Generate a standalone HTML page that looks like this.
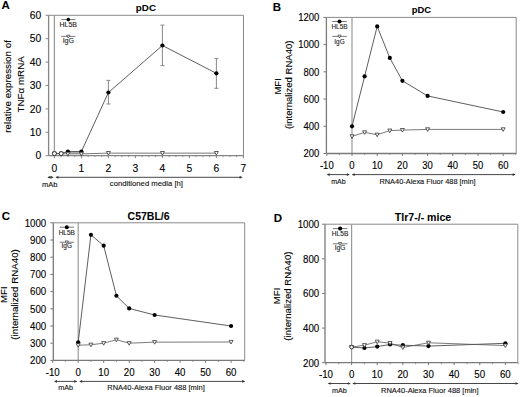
<!DOCTYPE html>
<html><head><meta charset="utf-8"><title>Figure</title>
<style>
html,body{margin:0;padding:0;background:#fff;}
body{width:520px;height:397px;overflow:hidden;font-family:"Liberation Sans", sans-serif;}
svg{display:block;}
</style></head><body>
<svg width="520" height="397" viewBox="0 0 520 397" font-family='"Liberation Sans", sans-serif'>
<line x1="48.60" y1="15.30" x2="243.50" y2="15.30" stroke="#8a8a8a" stroke-width="1"/>
<line x1="243.50" y1="15.30" x2="243.50" y2="155.70" stroke="#8a8a8a" stroke-width="1"/>
<line x1="54.40" y1="15.30" x2="54.40" y2="155.70" stroke="#9a9a9a" stroke-width="1.3"/>
<line x1="48.60" y1="15.30" x2="48.60" y2="155.70" stroke="#858585" stroke-width="1.3"/>
<line x1="48.60" y1="155.70" x2="243.50" y2="155.70" stroke="#858585" stroke-width="1.3"/>
<line x1="45.60" y1="155.70" x2="48.60" y2="155.70" stroke="#858585" stroke-width="1"/>
<text x="41.30" y="159.41" font-size="10.3" text-anchor="end" font-weight="normal" fill="#000" stroke="#000" stroke-width="0.12">0</text>
<line x1="45.60" y1="132.30" x2="48.60" y2="132.30" stroke="#858585" stroke-width="1"/>
<text x="41.30" y="136.01" font-size="10.3" text-anchor="end" font-weight="normal" fill="#000" stroke="#000" stroke-width="0.12">10</text>
<line x1="45.60" y1="108.90" x2="48.60" y2="108.90" stroke="#858585" stroke-width="1"/>
<text x="41.30" y="112.61" font-size="10.3" text-anchor="end" font-weight="normal" fill="#000" stroke="#000" stroke-width="0.12">20</text>
<line x1="45.60" y1="85.50" x2="48.60" y2="85.50" stroke="#858585" stroke-width="1"/>
<text x="41.30" y="89.21" font-size="10.3" text-anchor="end" font-weight="normal" fill="#000" stroke="#000" stroke-width="0.12">30</text>
<line x1="45.60" y1="62.10" x2="48.60" y2="62.10" stroke="#858585" stroke-width="1"/>
<text x="41.30" y="65.81" font-size="10.3" text-anchor="end" font-weight="normal" fill="#000" stroke="#000" stroke-width="0.12">40</text>
<line x1="45.60" y1="38.70" x2="48.60" y2="38.70" stroke="#858585" stroke-width="1"/>
<text x="41.30" y="42.41" font-size="10.3" text-anchor="end" font-weight="normal" fill="#000" stroke="#000" stroke-width="0.12">50</text>
<line x1="45.60" y1="15.30" x2="48.60" y2="15.30" stroke="#858585" stroke-width="1"/>
<text x="41.30" y="19.01" font-size="10.3" text-anchor="end" font-weight="normal" fill="#000" stroke="#000" stroke-width="0.12">60</text>
<line x1="54.40" y1="155.70" x2="54.40" y2="158.20" stroke="#858585" stroke-width="1"/>
<text x="54.40" y="172.00" font-size="10.3" text-anchor="middle" font-weight="normal" fill="#000" stroke="#000" stroke-width="0.12">0</text>
<line x1="81.40" y1="155.70" x2="81.40" y2="158.20" stroke="#858585" stroke-width="1"/>
<text x="81.40" y="172.00" font-size="10.3" text-anchor="middle" font-weight="normal" fill="#000" stroke="#000" stroke-width="0.12">1</text>
<line x1="108.40" y1="155.70" x2="108.40" y2="158.20" stroke="#858585" stroke-width="1"/>
<text x="108.40" y="172.00" font-size="10.3" text-anchor="middle" font-weight="normal" fill="#000" stroke="#000" stroke-width="0.12">2</text>
<line x1="135.40" y1="155.70" x2="135.40" y2="158.20" stroke="#858585" stroke-width="1"/>
<text x="135.40" y="172.00" font-size="10.3" text-anchor="middle" font-weight="normal" fill="#000" stroke="#000" stroke-width="0.12">3</text>
<line x1="162.40" y1="155.70" x2="162.40" y2="158.20" stroke="#858585" stroke-width="1"/>
<text x="162.40" y="172.00" font-size="10.3" text-anchor="middle" font-weight="normal" fill="#000" stroke="#000" stroke-width="0.12">4</text>
<line x1="189.40" y1="155.70" x2="189.40" y2="158.20" stroke="#858585" stroke-width="1"/>
<text x="189.40" y="172.00" font-size="10.3" text-anchor="middle" font-weight="normal" fill="#000" stroke="#000" stroke-width="0.12">5</text>
<line x1="216.40" y1="155.70" x2="216.40" y2="158.20" stroke="#858585" stroke-width="1"/>
<text x="216.40" y="172.00" font-size="10.3" text-anchor="middle" font-weight="normal" fill="#000" stroke="#000" stroke-width="0.12">6</text>
<line x1="243.40" y1="155.70" x2="243.40" y2="158.20" stroke="#858585" stroke-width="1"/>
<text x="243.40" y="172.00" font-size="10.3" text-anchor="middle" font-weight="normal" fill="#000" stroke="#000" stroke-width="0.12">7</text>
<line x1="61.15" y1="155.70" x2="61.15" y2="157.20" stroke="#858585" stroke-width="0.8"/>
<line x1="67.90" y1="155.70" x2="67.90" y2="157.20" stroke="#858585" stroke-width="0.8"/>
<line x1="74.65" y1="155.70" x2="74.65" y2="157.20" stroke="#858585" stroke-width="0.8"/>
<line x1="88.15" y1="155.70" x2="88.15" y2="157.20" stroke="#858585" stroke-width="0.8"/>
<line x1="94.90" y1="155.70" x2="94.90" y2="157.20" stroke="#858585" stroke-width="0.8"/>
<line x1="101.65" y1="155.70" x2="101.65" y2="157.20" stroke="#858585" stroke-width="0.8"/>
<line x1="115.15" y1="155.70" x2="115.15" y2="157.20" stroke="#858585" stroke-width="0.8"/>
<line x1="121.90" y1="155.70" x2="121.90" y2="157.20" stroke="#858585" stroke-width="0.8"/>
<line x1="128.65" y1="155.70" x2="128.65" y2="157.20" stroke="#858585" stroke-width="0.8"/>
<line x1="142.15" y1="155.70" x2="142.15" y2="157.20" stroke="#858585" stroke-width="0.8"/>
<line x1="148.90" y1="155.70" x2="148.90" y2="157.20" stroke="#858585" stroke-width="0.8"/>
<line x1="155.65" y1="155.70" x2="155.65" y2="157.20" stroke="#858585" stroke-width="0.8"/>
<line x1="169.15" y1="155.70" x2="169.15" y2="157.20" stroke="#858585" stroke-width="0.8"/>
<line x1="175.90" y1="155.70" x2="175.90" y2="157.20" stroke="#858585" stroke-width="0.8"/>
<line x1="182.65" y1="155.70" x2="182.65" y2="157.20" stroke="#858585" stroke-width="0.8"/>
<line x1="196.15" y1="155.70" x2="196.15" y2="157.20" stroke="#858585" stroke-width="0.8"/>
<line x1="202.90" y1="155.70" x2="202.90" y2="157.20" stroke="#858585" stroke-width="0.8"/>
<line x1="209.65" y1="155.70" x2="209.65" y2="157.20" stroke="#858585" stroke-width="0.8"/>
<line x1="223.15" y1="155.70" x2="223.15" y2="157.20" stroke="#858585" stroke-width="0.8"/>
<line x1="229.90" y1="155.70" x2="229.90" y2="157.20" stroke="#858585" stroke-width="0.8"/>
<line x1="236.65" y1="155.70" x2="236.65" y2="157.20" stroke="#858585" stroke-width="0.8"/>
<text x="145.90" y="11.20" font-size="9.8" text-anchor="middle" font-weight="bold" fill="#000" stroke="#000" stroke-width="0.05">pDC</text>
<text x="1.50" y="9.30" font-size="11.5" text-anchor="start" font-weight="bold" fill="#000" stroke="#000" stroke-width="0.05">A</text>
<text x="11.40" y="86.40" font-size="9.8" text-anchor="middle" font-weight="normal" fill="#000" stroke="#000" stroke-width="0.12" transform="rotate(-90 11.4 86.4)">relative expression of</text>
<text x="23.60" y="84.40" font-size="9.8" text-anchor="middle" font-weight="normal" fill="#000" stroke="#000" stroke-width="0.12" transform="rotate(-90 23.6 84.4)">TNF&#945; mRNA</text>
<line x1="48.40" y1="177.30" x2="52.60" y2="177.30" stroke="#333" stroke-width="0.9"/>
<polygon points="47.40,177.30 50.40,175.95 50.40,178.65" fill="#333"/>
<polygon points="53.60,177.30 50.60,175.95 50.60,178.65" fill="#333"/>
<line x1="56.40" y1="177.30" x2="241.60" y2="177.30" stroke="#333" stroke-width="0.9"/>
<polygon points="55.40,177.30 58.40,175.95 58.40,178.65" fill="#333"/>
<polygon points="242.60,177.30 239.60,175.95 239.60,178.65" fill="#333"/>
<text x="49.80" y="186.60" font-size="7.5" text-anchor="middle" font-weight="normal" fill="#111" stroke="#111" stroke-width="0.12">mAb</text>
<text x="146.40" y="186.30" font-size="7.7" text-anchor="middle" font-weight="normal" fill="#111" stroke="#111" stroke-width="0.12">conditioned media [h]</text>
<line x1="61.30" y1="19.60" x2="75.30" y2="19.60" stroke="#555" stroke-width="0.8"/>
<circle cx="68.30" cy="19.60" r="1.8" fill="#000" stroke="none" stroke-width="0"/>
<text x="68.30" y="27.30" font-size="7.0" text-anchor="middle" font-weight="normal" fill="#222" stroke="#222" stroke-width="0.12">HL5B</text>
<line x1="61.30" y1="36.40" x2="75.30" y2="36.40" stroke="#555" stroke-width="0.8"/>
<polygon points="66.70,35.12 69.90,35.12 68.30,38.00" fill="#fff" stroke="#333" stroke-width="0.7"/>
<text x="68.30" y="43.20" font-size="7.0" text-anchor="middle" font-weight="normal" fill="#222" stroke="#222" stroke-width="0.12">IgG</text>
<line x1="108.40" y1="103.99" x2="108.40" y2="80.35" stroke="#888" stroke-width="1"/>
<line x1="106.40" y1="103.99" x2="110.40" y2="103.99" stroke="#888" stroke-width="1"/>
<line x1="106.40" y1="80.35" x2="110.40" y2="80.35" stroke="#888" stroke-width="1"/>
<line x1="162.40" y1="65.61" x2="162.40" y2="25.13" stroke="#888" stroke-width="1"/>
<line x1="160.40" y1="65.61" x2="164.40" y2="65.61" stroke="#888" stroke-width="1"/>
<line x1="160.40" y1="25.13" x2="164.40" y2="25.13" stroke="#888" stroke-width="1"/>
<line x1="216.40" y1="88.31" x2="216.40" y2="58.59" stroke="#888" stroke-width="1"/>
<line x1="214.40" y1="88.31" x2="218.40" y2="88.31" stroke="#888" stroke-width="1"/>
<line x1="214.40" y1="58.59" x2="218.40" y2="58.59" stroke="#888" stroke-width="1"/>
<rect x="67.90" y="151.76" width="13.50" height="1.8" fill="#a8a8a8"/>
<polyline points="54.40,153.59 61.15,153.59 67.90,153.83 81.40,153.83 108.40,153.13 162.40,153.13 216.40,153.13" fill="none" stroke="#7a7a7a" stroke-width="1.0"/>
<polyline points="54.40,153.59 61.15,153.59 67.90,151.49 81.40,151.49 108.40,92.52 162.40,45.49 216.40,73.33" fill="none" stroke="#555555" stroke-width="0.95"/>
<circle cx="67.90" cy="151.49" r="2.1" fill="#000" stroke="none" stroke-width="0"/>
<circle cx="81.40" cy="151.49" r="2.1" fill="#000" stroke="none" stroke-width="0"/>
<circle cx="108.40" cy="92.52" r="2.1" fill="#000" stroke="none" stroke-width="0"/>
<circle cx="162.40" cy="45.49" r="2.1" fill="#000" stroke="none" stroke-width="0"/>
<circle cx="216.40" cy="73.33" r="2.1" fill="#000" stroke="none" stroke-width="0"/>
<polygon points="52.40,151.99 56.40,151.99 54.40,155.59" fill="#fff" stroke="#333" stroke-width="0.8"/>
<polygon points="59.15,151.99 63.15,151.99 61.15,155.59" fill="#fff" stroke="#333" stroke-width="0.8"/>
<polygon points="65.90,152.23 69.90,152.23 67.90,155.83" fill="#fff" stroke="#333" stroke-width="0.8"/>
<polygon points="79.40,152.23 83.40,152.23 81.40,155.83" fill="#fff" stroke="#333" stroke-width="0.8"/>
<polygon points="106.40,151.53 110.40,151.53 108.40,155.13" fill="#fff" stroke="#333" stroke-width="0.8"/>
<polygon points="160.40,151.53 164.40,151.53 162.40,155.13" fill="#fff" stroke="#333" stroke-width="0.8"/>
<polygon points="214.40,151.53 218.40,151.53 216.40,155.13" fill="#fff" stroke="#333" stroke-width="0.8"/>
<circle cx="54.40" cy="153.59" r="2.0" fill="#fff" stroke="#222" stroke-width="0.9"/>
<circle cx="61.15" cy="153.59" r="2.0" fill="#fff" stroke="#222" stroke-width="0.9"/>
<line x1="326.40" y1="17.40" x2="516.20" y2="17.40" stroke="#8a8a8a" stroke-width="1"/>
<line x1="516.20" y1="17.40" x2="516.20" y2="153.50" stroke="#8a8a8a" stroke-width="1"/>
<line x1="352.00" y1="17.40" x2="352.00" y2="153.50" stroke="#9a9a9a" stroke-width="1.2"/>
<line x1="326.40" y1="17.40" x2="326.40" y2="153.50" stroke="#7a7a7a" stroke-width="1.3"/>
<line x1="326.40" y1="153.50" x2="516.20" y2="153.50" stroke="#7a7a7a" stroke-width="1.3"/>
<line x1="323.40" y1="153.50" x2="326.40" y2="153.50" stroke="#7a7a7a" stroke-width="1"/>
<text x="0" y="0" transform="translate(319.40 157.33) scale(1 1.12)" font-size="9.5" text-anchor="end" font-weight="normal" fill="#000" stroke="#000" stroke-width="0.12">200</text>
<line x1="323.40" y1="126.28" x2="326.40" y2="126.28" stroke="#7a7a7a" stroke-width="1"/>
<text x="0" y="0" transform="translate(319.40 130.11) scale(1 1.12)" font-size="9.5" text-anchor="end" font-weight="normal" fill="#000" stroke="#000" stroke-width="0.12">400</text>
<line x1="323.40" y1="99.06" x2="326.40" y2="99.06" stroke="#7a7a7a" stroke-width="1"/>
<text x="0" y="0" transform="translate(319.40 102.89) scale(1 1.12)" font-size="9.5" text-anchor="end" font-weight="normal" fill="#000" stroke="#000" stroke-width="0.12">600</text>
<line x1="323.40" y1="71.84" x2="326.40" y2="71.84" stroke="#7a7a7a" stroke-width="1"/>
<text x="0" y="0" transform="translate(319.40 75.67) scale(1 1.12)" font-size="9.5" text-anchor="end" font-weight="normal" fill="#000" stroke="#000" stroke-width="0.12">800</text>
<line x1="323.40" y1="44.62" x2="326.40" y2="44.62" stroke="#7a7a7a" stroke-width="1"/>
<text x="0" y="0" transform="translate(319.40 48.45) scale(1 1.12)" font-size="9.5" text-anchor="end" font-weight="normal" fill="#000" stroke="#000" stroke-width="0.12">1000</text>
<line x1="323.40" y1="17.40" x2="326.40" y2="17.40" stroke="#7a7a7a" stroke-width="1"/>
<text x="0" y="0" transform="translate(319.40 21.23) scale(1 1.12)" font-size="9.5" text-anchor="end" font-weight="normal" fill="#000" stroke="#000" stroke-width="0.12">1200</text>
<line x1="326.80" y1="153.50" x2="326.80" y2="156.00" stroke="#7a7a7a" stroke-width="1"/>
<text x="0" y="0" transform="translate(326.80 169.30) scale(1 1.12)" font-size="9.5" text-anchor="middle" font-weight="normal" fill="#000" stroke="#000" stroke-width="0.12">-10</text>
<line x1="352.00" y1="153.50" x2="352.00" y2="156.00" stroke="#7a7a7a" stroke-width="1"/>
<text x="0" y="0" transform="translate(352.00 169.30) scale(1 1.12)" font-size="9.5" text-anchor="middle" font-weight="normal" fill="#000" stroke="#000" stroke-width="0.12">0</text>
<line x1="377.20" y1="153.50" x2="377.20" y2="156.00" stroke="#7a7a7a" stroke-width="1"/>
<text x="0" y="0" transform="translate(377.20 169.30) scale(1 1.12)" font-size="9.5" text-anchor="middle" font-weight="normal" fill="#000" stroke="#000" stroke-width="0.12">10</text>
<line x1="402.40" y1="153.50" x2="402.40" y2="156.00" stroke="#7a7a7a" stroke-width="1"/>
<text x="0" y="0" transform="translate(402.40 169.30) scale(1 1.12)" font-size="9.5" text-anchor="middle" font-weight="normal" fill="#000" stroke="#000" stroke-width="0.12">20</text>
<line x1="427.60" y1="153.50" x2="427.60" y2="156.00" stroke="#7a7a7a" stroke-width="1"/>
<text x="0" y="0" transform="translate(427.60 169.30) scale(1 1.12)" font-size="9.5" text-anchor="middle" font-weight="normal" fill="#000" stroke="#000" stroke-width="0.12">30</text>
<line x1="452.80" y1="153.50" x2="452.80" y2="156.00" stroke="#7a7a7a" stroke-width="1"/>
<text x="0" y="0" transform="translate(452.80 169.30) scale(1 1.12)" font-size="9.5" text-anchor="middle" font-weight="normal" fill="#000" stroke="#000" stroke-width="0.12">40</text>
<line x1="478.00" y1="153.50" x2="478.00" y2="156.00" stroke="#7a7a7a" stroke-width="1"/>
<text x="0" y="0" transform="translate(478.00 169.30) scale(1 1.12)" font-size="9.5" text-anchor="middle" font-weight="normal" fill="#000" stroke="#000" stroke-width="0.12">50</text>
<line x1="503.20" y1="153.50" x2="503.20" y2="156.00" stroke="#7a7a7a" stroke-width="1"/>
<text x="0" y="0" transform="translate(503.20 169.30) scale(1 1.12)" font-size="9.5" text-anchor="middle" font-weight="normal" fill="#000" stroke="#000" stroke-width="0.12">60</text>
<line x1="339.40" y1="153.50" x2="339.40" y2="155.00" stroke="#7a7a7a" stroke-width="0.8"/>
<line x1="364.60" y1="153.50" x2="364.60" y2="155.00" stroke="#7a7a7a" stroke-width="0.8"/>
<line x1="389.80" y1="153.50" x2="389.80" y2="155.00" stroke="#7a7a7a" stroke-width="0.8"/>
<line x1="415.00" y1="153.50" x2="415.00" y2="155.00" stroke="#7a7a7a" stroke-width="0.8"/>
<line x1="440.20" y1="153.50" x2="440.20" y2="155.00" stroke="#7a7a7a" stroke-width="0.8"/>
<line x1="465.40" y1="153.50" x2="465.40" y2="155.00" stroke="#7a7a7a" stroke-width="0.8"/>
<line x1="490.60" y1="153.50" x2="490.60" y2="155.00" stroke="#7a7a7a" stroke-width="0.8"/>
<line x1="515.80" y1="153.50" x2="515.80" y2="155.00" stroke="#7a7a7a" stroke-width="0.8"/>
<text x="421.40" y="13.10" font-size="9.4" text-anchor="middle" font-weight="bold" fill="#000" stroke="#000" stroke-width="0.05">pDC</text>
<text x="272.80" y="11.40" font-size="11.5" text-anchor="start" font-weight="bold" fill="#000" stroke="#000" stroke-width="0.05">B</text>
<text x="281.00" y="86.40" font-size="9.5" text-anchor="middle" font-weight="normal" fill="#000" stroke="#000" stroke-width="0.12" transform="rotate(-90 281.0 86.4)">MFI</text>
<text x="291.60" y="84.80" font-size="9.55" text-anchor="middle" font-weight="normal" fill="#000" stroke="#000" stroke-width="0.12" transform="rotate(-90 291.6 84.8)">(internalized RNA40)</text>
<line x1="327.70" y1="174.60" x2="348.80" y2="174.60" stroke="#333" stroke-width="0.9"/>
<polygon points="326.70,174.60 329.70,173.25 329.70,175.95" fill="#333"/>
<polygon points="349.80,174.60 346.80,173.25 346.80,175.95" fill="#333"/>
<line x1="352.70" y1="174.60" x2="514.60" y2="174.60" stroke="#333" stroke-width="0.9"/>
<polygon points="351.70,174.60 354.70,173.25 354.70,175.95" fill="#333"/>
<polygon points="515.60,174.60 512.60,173.25 512.60,175.95" fill="#333"/>
<text x="338.40" y="183.60" font-size="7.0" text-anchor="middle" font-weight="normal" fill="#111" stroke="#111" stroke-width="0.12">mAb</text>
<text x="427.50" y="183.60" font-size="7.4" text-anchor="middle" font-weight="normal" fill="#111" stroke="#111" stroke-width="0.12">RNA40-Alexa Fluor 488 [min]</text>
<line x1="332.25" y1="21.50" x2="346.75" y2="21.50" stroke="#555" stroke-width="0.8"/>
<circle cx="339.50" cy="21.50" r="2.0" fill="#000" stroke="none" stroke-width="0"/>
<text x="339.50" y="29.00" font-size="6.4" text-anchor="middle" font-weight="normal" fill="#222" stroke="#222" stroke-width="0.12">HL5B</text>
<line x1="332.25" y1="36.40" x2="346.75" y2="36.40" stroke="#555" stroke-width="0.8"/>
<polygon points="337.90,35.12 341.10,35.12 339.50,38.00" fill="#fff" stroke="#333" stroke-width="0.7"/>
<text x="339.50" y="43.80" font-size="6.4" text-anchor="middle" font-weight="normal" fill="#222" stroke="#222" stroke-width="0.12">IgG</text>
<polyline points="352.00,136.35 364.60,132.40 377.20,134.72 389.80,130.64 402.40,130.09 427.60,129.41 503.20,129.41" fill="none" stroke="#7a7a7a" stroke-width="1.0"/>
<polyline points="352.00,126.28 364.60,76.33 377.20,26.38 389.80,57.96 402.40,80.82 427.60,95.93 503.20,111.99" fill="none" stroke="#555555" stroke-width="0.95"/>
<circle cx="352.00" cy="126.28" r="2.1" fill="#000" stroke="none" stroke-width="0"/>
<circle cx="364.60" cy="76.33" r="2.1" fill="#000" stroke="none" stroke-width="0"/>
<circle cx="377.20" cy="26.38" r="2.1" fill="#000" stroke="none" stroke-width="0"/>
<circle cx="389.80" cy="57.96" r="2.1" fill="#000" stroke="none" stroke-width="0"/>
<circle cx="402.40" cy="80.82" r="2.1" fill="#000" stroke="none" stroke-width="0"/>
<circle cx="427.60" cy="95.93" r="2.1" fill="#000" stroke="none" stroke-width="0"/>
<circle cx="503.20" cy="111.99" r="2.1" fill="#000" stroke="none" stroke-width="0"/>
<polygon points="350.00,134.75 354.00,134.75 352.00,138.35" fill="#fff" stroke="#333" stroke-width="0.8"/>
<polygon points="362.60,130.80 366.60,130.80 364.60,134.40" fill="#fff" stroke="#333" stroke-width="0.8"/>
<polygon points="375.20,133.12 379.20,133.12 377.20,136.72" fill="#fff" stroke="#333" stroke-width="0.8"/>
<polygon points="387.80,129.04 391.80,129.04 389.80,132.64" fill="#fff" stroke="#333" stroke-width="0.8"/>
<polygon points="400.40,128.49 404.40,128.49 402.40,132.09" fill="#fff" stroke="#333" stroke-width="0.8"/>
<polygon points="425.60,127.81 429.60,127.81 427.60,131.41" fill="#fff" stroke="#333" stroke-width="0.8"/>
<polygon points="501.20,127.81 505.20,127.81 503.20,131.41" fill="#fff" stroke="#333" stroke-width="0.8"/>
<line x1="53.30" y1="222.80" x2="244.70" y2="222.80" stroke="#8a8a8a" stroke-width="1"/>
<line x1="244.70" y1="222.80" x2="244.70" y2="360.40" stroke="#8a8a8a" stroke-width="1"/>
<line x1="78.20" y1="222.80" x2="78.20" y2="360.40" stroke="#9a9a9a" stroke-width="1.2"/>
<line x1="53.30" y1="222.80" x2="53.30" y2="360.40" stroke="#7a7a7a" stroke-width="1.3"/>
<line x1="53.30" y1="360.40" x2="244.70" y2="360.40" stroke="#7a7a7a" stroke-width="1.3"/>
<line x1="50.30" y1="360.40" x2="53.30" y2="360.40" stroke="#7a7a7a" stroke-width="1"/>
<text x="0" y="0" transform="translate(46.20 364.24) scale(1 1.1)" font-size="9.7" text-anchor="end" font-weight="normal" fill="#000" stroke="#000" stroke-width="0.12">200</text>
<line x1="50.30" y1="343.20" x2="53.30" y2="343.20" stroke="#7a7a7a" stroke-width="1"/>
<text x="0" y="0" transform="translate(46.20 347.04) scale(1 1.1)" font-size="9.7" text-anchor="end" font-weight="normal" fill="#000" stroke="#000" stroke-width="0.12">300</text>
<line x1="50.30" y1="326.00" x2="53.30" y2="326.00" stroke="#7a7a7a" stroke-width="1"/>
<text x="0" y="0" transform="translate(46.20 329.84) scale(1 1.1)" font-size="9.7" text-anchor="end" font-weight="normal" fill="#000" stroke="#000" stroke-width="0.12">400</text>
<line x1="50.30" y1="308.80" x2="53.30" y2="308.80" stroke="#7a7a7a" stroke-width="1"/>
<text x="0" y="0" transform="translate(46.20 312.64) scale(1 1.1)" font-size="9.7" text-anchor="end" font-weight="normal" fill="#000" stroke="#000" stroke-width="0.12">500</text>
<line x1="50.30" y1="291.60" x2="53.30" y2="291.60" stroke="#7a7a7a" stroke-width="1"/>
<text x="0" y="0" transform="translate(46.20 295.44) scale(1 1.1)" font-size="9.7" text-anchor="end" font-weight="normal" fill="#000" stroke="#000" stroke-width="0.12">600</text>
<line x1="50.30" y1="274.40" x2="53.30" y2="274.40" stroke="#7a7a7a" stroke-width="1"/>
<text x="0" y="0" transform="translate(46.20 278.24) scale(1 1.1)" font-size="9.7" text-anchor="end" font-weight="normal" fill="#000" stroke="#000" stroke-width="0.12">700</text>
<line x1="50.30" y1="257.20" x2="53.30" y2="257.20" stroke="#7a7a7a" stroke-width="1"/>
<text x="0" y="0" transform="translate(46.20 261.04) scale(1 1.1)" font-size="9.7" text-anchor="end" font-weight="normal" fill="#000" stroke="#000" stroke-width="0.12">800</text>
<line x1="50.30" y1="240.00" x2="53.30" y2="240.00" stroke="#7a7a7a" stroke-width="1"/>
<text x="0" y="0" transform="translate(46.20 243.84) scale(1 1.1)" font-size="9.7" text-anchor="end" font-weight="normal" fill="#000" stroke="#000" stroke-width="0.12">900</text>
<line x1="50.30" y1="222.80" x2="53.30" y2="222.80" stroke="#7a7a7a" stroke-width="1"/>
<text x="0" y="0" transform="translate(46.20 226.64) scale(1 1.1)" font-size="9.7" text-anchor="end" font-weight="normal" fill="#000" stroke="#000" stroke-width="0.12">1000</text>
<line x1="52.72" y1="360.40" x2="52.72" y2="362.90" stroke="#7a7a7a" stroke-width="1"/>
<text x="0" y="0" transform="translate(52.72 376.00) scale(1 1.1)" font-size="9.7" text-anchor="middle" font-weight="normal" fill="#000" stroke="#000" stroke-width="0.12">-10</text>
<line x1="78.20" y1="360.40" x2="78.20" y2="362.90" stroke="#7a7a7a" stroke-width="1"/>
<text x="0" y="0" transform="translate(78.20 376.00) scale(1 1.1)" font-size="9.7" text-anchor="middle" font-weight="normal" fill="#000" stroke="#000" stroke-width="0.12">0</text>
<line x1="103.68" y1="360.40" x2="103.68" y2="362.90" stroke="#7a7a7a" stroke-width="1"/>
<text x="0" y="0" transform="translate(103.68 376.00) scale(1 1.1)" font-size="9.7" text-anchor="middle" font-weight="normal" fill="#000" stroke="#000" stroke-width="0.12">10</text>
<line x1="129.16" y1="360.40" x2="129.16" y2="362.90" stroke="#7a7a7a" stroke-width="1"/>
<text x="0" y="0" transform="translate(129.16 376.00) scale(1 1.1)" font-size="9.7" text-anchor="middle" font-weight="normal" fill="#000" stroke="#000" stroke-width="0.12">20</text>
<line x1="154.64" y1="360.40" x2="154.64" y2="362.90" stroke="#7a7a7a" stroke-width="1"/>
<text x="0" y="0" transform="translate(154.64 376.00) scale(1 1.1)" font-size="9.7" text-anchor="middle" font-weight="normal" fill="#000" stroke="#000" stroke-width="0.12">30</text>
<line x1="180.12" y1="360.40" x2="180.12" y2="362.90" stroke="#7a7a7a" stroke-width="1"/>
<text x="0" y="0" transform="translate(180.12 376.00) scale(1 1.1)" font-size="9.7" text-anchor="middle" font-weight="normal" fill="#000" stroke="#000" stroke-width="0.12">40</text>
<line x1="205.60" y1="360.40" x2="205.60" y2="362.90" stroke="#7a7a7a" stroke-width="1"/>
<text x="0" y="0" transform="translate(205.60 376.00) scale(1 1.1)" font-size="9.7" text-anchor="middle" font-weight="normal" fill="#000" stroke="#000" stroke-width="0.12">50</text>
<line x1="231.08" y1="360.40" x2="231.08" y2="362.90" stroke="#7a7a7a" stroke-width="1"/>
<text x="0" y="0" transform="translate(231.08 376.00) scale(1 1.1)" font-size="9.7" text-anchor="middle" font-weight="normal" fill="#000" stroke="#000" stroke-width="0.12">60</text>
<line x1="65.46" y1="360.40" x2="65.46" y2="361.90" stroke="#7a7a7a" stroke-width="0.8"/>
<line x1="90.94" y1="360.40" x2="90.94" y2="361.90" stroke="#7a7a7a" stroke-width="0.8"/>
<line x1="116.42" y1="360.40" x2="116.42" y2="361.90" stroke="#7a7a7a" stroke-width="0.8"/>
<line x1="141.90" y1="360.40" x2="141.90" y2="361.90" stroke="#7a7a7a" stroke-width="0.8"/>
<line x1="167.38" y1="360.40" x2="167.38" y2="361.90" stroke="#7a7a7a" stroke-width="0.8"/>
<line x1="192.86" y1="360.40" x2="192.86" y2="361.90" stroke="#7a7a7a" stroke-width="0.8"/>
<line x1="218.34" y1="360.40" x2="218.34" y2="361.90" stroke="#7a7a7a" stroke-width="0.8"/>
<line x1="243.82" y1="360.40" x2="243.82" y2="361.90" stroke="#7a7a7a" stroke-width="0.8"/>
<text x="148.60" y="219.80" font-size="10.5" text-anchor="middle" font-weight="bold" fill="#000" stroke="#000" stroke-width="0.05">C57BL/6</text>
<text x="1.80" y="220.20" font-size="11.5" text-anchor="start" font-weight="bold" fill="#000" stroke="#000" stroke-width="0.05">C</text>
<text x="7.00" y="294.70" font-size="9.6" text-anchor="middle" font-weight="normal" fill="#000" stroke="#000" stroke-width="0.12" transform="rotate(-90 7.0 294.7)">MFI</text>
<text x="18.00" y="294.40" font-size="9.75" text-anchor="middle" font-weight="normal" fill="#000" stroke="#000" stroke-width="0.12" transform="rotate(-90 18.0 294.4)">(internalized RNA40)</text>
<line x1="55.00" y1="381.40" x2="76.30" y2="381.40" stroke="#333" stroke-width="0.9"/>
<polygon points="54.00,381.40 57.00,380.05 57.00,382.75" fill="#333"/>
<polygon points="77.30,381.40 74.30,380.05 74.30,382.75" fill="#333"/>
<line x1="80.20" y1="381.40" x2="244.20" y2="381.40" stroke="#333" stroke-width="0.9"/>
<polygon points="79.20,381.40 82.20,380.05 82.20,382.75" fill="#333"/>
<polygon points="245.20,381.40 242.20,380.05 242.20,382.75" fill="#333"/>
<text x="65.60" y="390.30" font-size="7.2" text-anchor="middle" font-weight="normal" fill="#111" stroke="#111" stroke-width="0.12">mAb</text>
<text x="156.00" y="390.40" font-size="7.5" text-anchor="middle" font-weight="normal" fill="#111" stroke="#111" stroke-width="0.12">RNA40-Alexa Fluor 488 [min]</text>
<line x1="59.55" y1="227.20" x2="74.05" y2="227.20" stroke="#555" stroke-width="0.8"/>
<circle cx="66.80" cy="227.20" r="2.0" fill="#000" stroke="none" stroke-width="0"/>
<text x="66.80" y="234.50" font-size="6.5" text-anchor="middle" font-weight="normal" fill="#222" stroke="#222" stroke-width="0.12">HL5B</text>
<line x1="59.55" y1="242.20" x2="74.05" y2="242.20" stroke="#555" stroke-width="0.8"/>
<polygon points="65.20,240.92 68.40,240.92 66.80,243.80" fill="#fff" stroke="#333" stroke-width="0.7"/>
<text x="66.80" y="248.30" font-size="6.5" text-anchor="middle" font-weight="normal" fill="#222" stroke="#222" stroke-width="0.12">IgG</text>
<polyline points="78.20,345.26 90.94,344.75 103.68,343.20 116.42,339.76 129.16,343.20 154.64,342.17 231.08,342.00" fill="none" stroke="#7a7a7a" stroke-width="1.0"/>
<polyline points="78.20,342.34 90.94,234.84 103.68,245.68 116.42,295.73 129.16,308.46 154.64,314.99 231.08,326.00" fill="none" stroke="#555555" stroke-width="0.95"/>
<circle cx="78.20" cy="342.34" r="2.1" fill="#000" stroke="none" stroke-width="0"/>
<circle cx="90.94" cy="234.84" r="2.1" fill="#000" stroke="none" stroke-width="0"/>
<circle cx="103.68" cy="245.68" r="2.1" fill="#000" stroke="none" stroke-width="0"/>
<circle cx="116.42" cy="295.73" r="2.1" fill="#000" stroke="none" stroke-width="0"/>
<circle cx="129.16" cy="308.46" r="2.1" fill="#000" stroke="none" stroke-width="0"/>
<circle cx="154.64" cy="314.99" r="2.1" fill="#000" stroke="none" stroke-width="0"/>
<circle cx="231.08" cy="326.00" r="2.1" fill="#000" stroke="none" stroke-width="0"/>
<polygon points="76.20,343.66 80.20,343.66 78.20,347.26" fill="#fff" stroke="#333" stroke-width="0.8"/>
<polygon points="88.94,343.15 92.94,343.15 90.94,346.75" fill="#fff" stroke="#333" stroke-width="0.8"/>
<polygon points="101.68,341.60 105.68,341.60 103.68,345.20" fill="#fff" stroke="#333" stroke-width="0.8"/>
<polygon points="114.42,338.16 118.42,338.16 116.42,341.76" fill="#fff" stroke="#333" stroke-width="0.8"/>
<polygon points="127.16,341.60 131.16,341.60 129.16,345.20" fill="#fff" stroke="#333" stroke-width="0.8"/>
<polygon points="152.64,340.57 156.64,340.57 154.64,344.17" fill="#fff" stroke="#333" stroke-width="0.8"/>
<polygon points="229.08,340.40 233.08,340.40 231.08,344.00" fill="#fff" stroke="#333" stroke-width="0.8"/>
<line x1="325.00" y1="224.20" x2="517.80" y2="224.20" stroke="#8a8a8a" stroke-width="1"/>
<line x1="517.80" y1="224.20" x2="517.80" y2="362.70" stroke="#8a8a8a" stroke-width="1"/>
<line x1="351.60" y1="224.20" x2="351.60" y2="362.70" stroke="#9a9a9a" stroke-width="1.2"/>
<line x1="325.00" y1="224.20" x2="325.00" y2="362.70" stroke="#7a7a7a" stroke-width="1.3"/>
<line x1="325.00" y1="362.70" x2="517.80" y2="362.70" stroke="#7a7a7a" stroke-width="1.3"/>
<line x1="322.00" y1="362.70" x2="325.00" y2="362.70" stroke="#7a7a7a" stroke-width="1"/>
<text x="0" y="0" transform="translate(319.20 366.54) scale(1 1.1)" font-size="9.7" text-anchor="end" font-weight="normal" fill="#000" stroke="#000" stroke-width="0.12">200</text>
<line x1="322.00" y1="328.07" x2="325.00" y2="328.07" stroke="#7a7a7a" stroke-width="1"/>
<text x="0" y="0" transform="translate(319.20 331.92) scale(1 1.1)" font-size="9.7" text-anchor="end" font-weight="normal" fill="#000" stroke="#000" stroke-width="0.12">400</text>
<line x1="322.00" y1="293.45" x2="325.00" y2="293.45" stroke="#7a7a7a" stroke-width="1"/>
<text x="0" y="0" transform="translate(319.20 297.29) scale(1 1.1)" font-size="9.7" text-anchor="end" font-weight="normal" fill="#000" stroke="#000" stroke-width="0.12">600</text>
<line x1="322.00" y1="258.82" x2="325.00" y2="258.82" stroke="#7a7a7a" stroke-width="1"/>
<text x="0" y="0" transform="translate(319.20 262.67) scale(1 1.1)" font-size="9.7" text-anchor="end" font-weight="normal" fill="#000" stroke="#000" stroke-width="0.12">800</text>
<line x1="322.00" y1="224.20" x2="325.00" y2="224.20" stroke="#7a7a7a" stroke-width="1"/>
<text x="0" y="0" transform="translate(319.20 228.04) scale(1 1.1)" font-size="9.7" text-anchor="end" font-weight="normal" fill="#000" stroke="#000" stroke-width="0.12">1000</text>
<line x1="325.97" y1="362.70" x2="325.97" y2="365.20" stroke="#7a7a7a" stroke-width="1"/>
<text x="0" y="0" transform="translate(325.97 378.30) scale(1 1.1)" font-size="9.7" text-anchor="middle" font-weight="normal" fill="#000" stroke="#000" stroke-width="0.12">-10</text>
<line x1="351.60" y1="362.70" x2="351.60" y2="365.20" stroke="#7a7a7a" stroke-width="1"/>
<text x="0" y="0" transform="translate(351.60 378.30) scale(1 1.1)" font-size="9.7" text-anchor="middle" font-weight="normal" fill="#000" stroke="#000" stroke-width="0.12">0</text>
<line x1="377.23" y1="362.70" x2="377.23" y2="365.20" stroke="#7a7a7a" stroke-width="1"/>
<text x="0" y="0" transform="translate(377.23 378.30) scale(1 1.1)" font-size="9.7" text-anchor="middle" font-weight="normal" fill="#000" stroke="#000" stroke-width="0.12">10</text>
<line x1="402.86" y1="362.70" x2="402.86" y2="365.20" stroke="#7a7a7a" stroke-width="1"/>
<text x="0" y="0" transform="translate(402.86 378.30) scale(1 1.1)" font-size="9.7" text-anchor="middle" font-weight="normal" fill="#000" stroke="#000" stroke-width="0.12">20</text>
<line x1="428.49" y1="362.70" x2="428.49" y2="365.20" stroke="#7a7a7a" stroke-width="1"/>
<text x="0" y="0" transform="translate(428.49 378.30) scale(1 1.1)" font-size="9.7" text-anchor="middle" font-weight="normal" fill="#000" stroke="#000" stroke-width="0.12">30</text>
<line x1="454.12" y1="362.70" x2="454.12" y2="365.20" stroke="#7a7a7a" stroke-width="1"/>
<text x="0" y="0" transform="translate(454.12 378.30) scale(1 1.1)" font-size="9.7" text-anchor="middle" font-weight="normal" fill="#000" stroke="#000" stroke-width="0.12">40</text>
<line x1="479.75" y1="362.70" x2="479.75" y2="365.20" stroke="#7a7a7a" stroke-width="1"/>
<text x="0" y="0" transform="translate(479.75 378.30) scale(1 1.1)" font-size="9.7" text-anchor="middle" font-weight="normal" fill="#000" stroke="#000" stroke-width="0.12">50</text>
<line x1="505.38" y1="362.70" x2="505.38" y2="365.20" stroke="#7a7a7a" stroke-width="1"/>
<text x="0" y="0" transform="translate(505.38 378.30) scale(1 1.1)" font-size="9.7" text-anchor="middle" font-weight="normal" fill="#000" stroke="#000" stroke-width="0.12">60</text>
<line x1="338.79" y1="362.70" x2="338.79" y2="364.20" stroke="#7a7a7a" stroke-width="0.8"/>
<line x1="364.42" y1="362.70" x2="364.42" y2="364.20" stroke="#7a7a7a" stroke-width="0.8"/>
<line x1="390.05" y1="362.70" x2="390.05" y2="364.20" stroke="#7a7a7a" stroke-width="0.8"/>
<line x1="415.68" y1="362.70" x2="415.68" y2="364.20" stroke="#7a7a7a" stroke-width="0.8"/>
<line x1="441.31" y1="362.70" x2="441.31" y2="364.20" stroke="#7a7a7a" stroke-width="0.8"/>
<line x1="466.94" y1="362.70" x2="466.94" y2="364.20" stroke="#7a7a7a" stroke-width="0.8"/>
<line x1="492.57" y1="362.70" x2="492.57" y2="364.20" stroke="#7a7a7a" stroke-width="0.8"/>
<line x1="518.20" y1="362.70" x2="518.20" y2="364.20" stroke="#7a7a7a" stroke-width="0.8"/>
<text x="423.00" y="221.00" font-size="10.6" text-anchor="middle" font-weight="bold" fill="#000" stroke="#000" stroke-width="0.05">Tlr7-/- mice</text>
<text x="273.80" y="222.20" font-size="11.5" text-anchor="start" font-weight="bold" fill="#000" stroke="#000" stroke-width="0.05">D</text>
<text x="280.50" y="295.90" font-size="9.6" text-anchor="middle" font-weight="normal" fill="#000" stroke="#000" stroke-width="0.12" transform="rotate(-90 280.5 295.9)">MFI</text>
<text x="291.50" y="296.10" font-size="9.6" text-anchor="middle" font-weight="normal" fill="#000" stroke="#000" stroke-width="0.12" transform="rotate(-90 291.5 296.1)">(internalized RNA40)</text>
<line x1="328.70" y1="383.50" x2="349.80" y2="383.50" stroke="#333" stroke-width="0.9"/>
<polygon points="327.70,383.50 330.70,382.15 330.70,384.85" fill="#333"/>
<polygon points="350.80,383.50 347.80,382.15 347.80,384.85" fill="#333"/>
<line x1="353.30" y1="383.50" x2="517.50" y2="383.50" stroke="#333" stroke-width="0.9"/>
<polygon points="352.30,383.50 355.30,382.15 355.30,384.85" fill="#333"/>
<polygon points="518.50,383.50 515.50,382.15 515.50,384.85" fill="#333"/>
<text x="339.40" y="392.60" font-size="7.2" text-anchor="middle" font-weight="normal" fill="#111" stroke="#111" stroke-width="0.12">mAb</text>
<text x="429.80" y="392.60" font-size="7.5" text-anchor="middle" font-weight="normal" fill="#111" stroke="#111" stroke-width="0.12">RNA40-Alexa Fluor 488 [min]</text>
<line x1="332.85" y1="228.60" x2="347.35" y2="228.60" stroke="#555" stroke-width="0.8"/>
<circle cx="340.10" cy="228.60" r="2.1" fill="#000" stroke="none" stroke-width="0"/>
<text x="340.10" y="236.10" font-size="6.6" text-anchor="middle" font-weight="normal" fill="#222" stroke="#222" stroke-width="0.12">HL5B</text>
<line x1="332.85" y1="243.80" x2="347.35" y2="243.80" stroke="#555" stroke-width="0.8"/>
<polygon points="338.50,242.52 341.70,242.52 340.10,245.40" fill="#fff" stroke="#333" stroke-width="0.7"/>
<text x="340.10" y="249.70" font-size="6.6" text-anchor="middle" font-weight="normal" fill="#222" stroke="#222" stroke-width="0.12">IgG</text>
<polyline points="351.60,347.12 364.42,345.21 377.23,341.75 390.05,343.14 402.86,347.46 428.49,342.79 505.38,345.56" fill="none" stroke="#7a7a7a" stroke-width="1.0"/>
<polyline points="351.60,347.12 364.42,347.98 377.23,346.60 390.05,344.52 402.86,345.21 428.49,346.08 505.38,343.31" fill="none" stroke="#555555" stroke-width="0.95"/>
<circle cx="364.42" cy="347.98" r="2.1" fill="#000" stroke="none" stroke-width="0"/>
<circle cx="377.23" cy="346.60" r="2.1" fill="#000" stroke="none" stroke-width="0"/>
<circle cx="390.05" cy="344.52" r="2.1" fill="#000" stroke="none" stroke-width="0"/>
<circle cx="402.86" cy="345.21" r="2.1" fill="#000" stroke="none" stroke-width="0"/>
<circle cx="428.49" cy="346.08" r="2.1" fill="#000" stroke="none" stroke-width="0"/>
<circle cx="505.38" cy="343.31" r="2.1" fill="#000" stroke="none" stroke-width="0"/>
<polygon points="349.60,345.52 353.60,345.52 351.60,349.12" fill="#fff" stroke="#333" stroke-width="0.8"/>
<polygon points="362.42,343.61 366.42,343.61 364.42,347.21" fill="#fff" stroke="#333" stroke-width="0.8"/>
<polygon points="375.23,340.15 379.23,340.15 377.23,343.75" fill="#fff" stroke="#333" stroke-width="0.8"/>
<polygon points="388.05,341.54 392.05,341.54 390.05,345.14" fill="#fff" stroke="#333" stroke-width="0.8"/>
<polygon points="400.86,345.86 404.86,345.86 402.86,349.46" fill="#fff" stroke="#333" stroke-width="0.8"/>
<polygon points="426.49,341.19 430.49,341.19 428.49,344.79" fill="#fff" stroke="#333" stroke-width="0.8"/>
<polygon points="503.38,343.96 507.38,343.96 505.38,347.56" fill="#fff" stroke="#333" stroke-width="0.8"/>
<circle cx="351.60" cy="347.12" r="1.8" fill="#fff" stroke="#222" stroke-width="0.9"/>
</svg>
</body></html>
